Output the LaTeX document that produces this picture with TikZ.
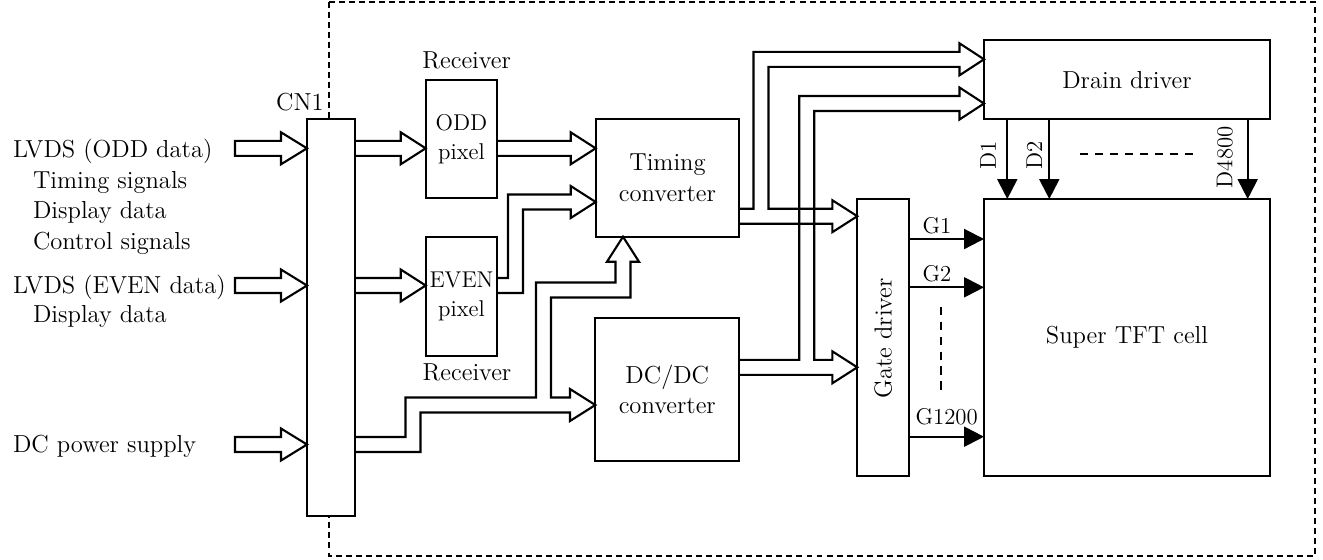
\documentclass[tikz,border=0pt]{standalone}
\usepackage{fontspec}
\usetikzlibrary{arrows.meta}

\tikzset{
  blk/.style={draw, line width=1.2pt, fill=white, inner sep=0pt, outer sep=0pt,
    align=center, font=\fontsize{14}{17.5}\selectfont},
  rxblk/.style={blk, font=\fontsize{13}{16.5}\selectfont},
  txt/.style={inner sep=0pt, font=\fontsize{14}{17.5}\selectfont},
  lbl/.style={inner sep=0pt, font=\fontsize{13}{15}\selectfont},
  bus/.style={line width=1.2pt, line join=miter},
  sig/.style={line width=1.2pt, -{Triangle[length=4mm,width=4mm]}},
  dots/.style={line width=1.2pt, dash pattern=on 4.7pt off 3.8pt},
  frame/.style={line width=1.2pt, dash pattern=on 3.4pt off 2.3pt},
}

% input bus arrow into CN1 (closed tail)
\newcommand{\busin}[1]{\draw[bus] (235,#1-7.5) -- (281,#1-7.5) -- (281,#1-16) -- (cn.west |- 0,#1)
  -- (281,#1+16) -- (281,#1+7.5) -- (235,#1+7.5) -- cycle;}
% straight bus arrow, open tail
\newcommand{\busR}[3]{\draw[bus] (#1,#3-7.5) -- (#2-25,#3-7.5) -- (#2-25,#3-16) -- (#2,#3)
  -- (#2-25,#3+16) -- (#2-25,#3+7.5) -- (#1,#3+7.5);}

\begin{document}
\begin{tikzpicture}[x=0.02cm, y=-0.02cm]
    \useasboundingbox (0,0) rectangle (1323,559);

    % module outline
    \draw [frame] (329.3,1.7) rectangle (1315,556);

    % blocks
    \node [blk, minimum width=0.96cm, minimum height=7.94cm] (cn) at (331,317.5) {};
    \node [txt, anchor=east] (cnlbl) at (324,102) {CN1};

    \node [rxblk, minimum width=1.432cm, minimum height=2.366cm] (odd) at (461.5,139.2) {ODD\\pixel};
    \node [rxblk, minimum width=1.432cm, minimum height=2.386cm] (even) at (461.5,296.3) {EVEN\\pixel};
    \node [txt] (rxodd) at (466.7,60.5) {Receiver};
    \node [txt] (rxeven) at (467,372) {Receiver};

    \node [blk, minimum width=2.872cm, minimum height=2.348cm] (tim) at (667.5,178) {Timing\\converter};
    \node [blk, minimum width=2.88cm, minimum height=2.848cm] (dcdc) at (667.3,389.5) {DC/DC\\converter};

    \node [blk, minimum width=1.04cm, minimum height=5.54cm] (gate) at (883.3,337.5) {};
    \node [txt, rotate=90] (gatelbl) at (883.3,338.3) {Gate driver};

    \node [blk, minimum width=5.72cm, minimum height=1.586cm] (drain) at (1127,79.7) {Drain driver};
    \node [blk, minimum width=5.72cm, minimum height=5.54cm] (cell) at (1127,337.5) {Super TFT cell};

    % interface texts
    \node [txt, anchor=base west] (lvdsodd) at (12.7,157.3) {LVDS (ODD data)};
    \node [txt, anchor=base west] (tsig) at (32.7,188.3) {Timing signals};
    \node [txt, anchor=base west] (ddodd) at (32.7,218.3) {Display data};
    \node [txt, anchor=base west] (csig) at (32.7,249) {Control signals};
    \node [txt, anchor=base west] (lvdseven) at (12.7,293.3) {LVDS (EVEN data)};
    \node [txt, anchor=base west] (ddeven) at (32.7,322.7) {Display data};
    \node [txt, anchor=base west] (dcin) at (12.7,452.3) {DC power supply};

    % input buses
    \busin{148.3}
    \busin{285.5}
    \busin{444.5}

    % CN1 -> receivers -> timing converter
    \busR{355}{425.7}{148.3}
    \busR{355}{425.7}{285.5}
    \busR{497.3}{595.7}{148.3}
    \draw [bus] (even.east |- 0,278) -- (508,278) -- (508,194.5) -- (570.7,194.5) -- (570.7,186)
      -- (tim.west |- 0,202) -- (570.7,218) -- (570.7,209.5) -- (523,209.5) -- (523,293)
      -- (even.east |- 0,293);

    % CN1 -> timing converter and DC/DC converter
    \draw [bus] (cn.east |- 0,437) -- (405.5,437) -- (405.5,397.5) -- (536,397.5) -- (536,282.5)
      -- (615.5,282.5) -- (615.5,261.7) -- (607,261.7) -- (tim.south -| 623,0) -- (639,261.7)
      -- (630.5,261.7) -- (630.5,297.5) -- (551,297.5) -- (551,397.5) -- (570,397.5) -- (570,389)
      -- (dcdc.west |- 0,405) -- (570,421) -- (570,412.5) -- (420.5,412.5) -- (420.5,452)
      -- (cn.east |- 0,452);

    % timing converter -> drain driver and gate driver
    \draw [bus] (tim.east |- 0,208.7) -- (753.5,208.7) -- (753.5,51.8) -- (959.5,51.8) -- (959.5,43.3)
      -- (drain.west |- 0,59.3) -- (959.5,75.3) -- (959.5,66.8) -- (768.5,66.8) -- (768.5,208.7)
      -- (832.3,208.7) -- (832.3,200.2) -- (gate.west |- 0,216.2) -- (832.3,232.2) -- (832.3,223.7)
      -- (tim.east |- 0,223.7);

    % DC/DC converter -> drain driver and gate driver
    \draw [bus] (dcdc.east |- 0,359.8) -- (799.2,359.8) -- (799.2,96) -- (959.5,96) -- (959.5,87.5)
      -- (drain.west |- 0,103.5) -- (959.5,119.5) -- (959.5,111) -- (814.2,111) -- (814.2,359.8)
      -- (832.3,359.8) -- (832.3,351.3) -- (gate.west |- 0,367.3) -- (832.3,383.3) -- (832.3,374.8)
      -- (dcdc.east |- 0,374.8);

    % gate lines
    \draw [sig] (gate.east |- 0,239) -- (cell.west |- 0,239);
    \draw [sig] (gate.east |- 0,287.3) -- (cell.west |- 0,287.3);
    \draw [sig] (gate.east |- 0,436.7) -- (cell.west |- 0,436.7);
    \node [lbl, anchor=base] (g1) at (937,233.3) {G1};
    \node [lbl, anchor=base] (g2) at (937,281.7) {G2};
    \node [lbl, anchor=base] (gn) at (946.7,424) {G1200};
    \draw [dots] (940.7,306.7) -- (940.7,392.3);

    % drain lines
    \draw [sig] (drain.south -| 1007.3,0) -- (cell.north -| 1007.3,0);
    \draw [sig] (drain.south -| 1049.3,0) -- (cell.north -| 1049.3,0);
    \draw [sig] (drain.south -| 1247.7,0) -- (cell.north -| 1247.7,0);
    \node [lbl, rotate=90] (d1) at (988,155) {D1};
    \node [lbl, rotate=90] (d2) at (1034.3,155) {D2};
    \node [lbl, rotate=90] (dn) at (1224.7,157.2) {D4800};
    \draw [dots] (1080,154) -- (1197,154);
\end{tikzpicture}
\end{document}
